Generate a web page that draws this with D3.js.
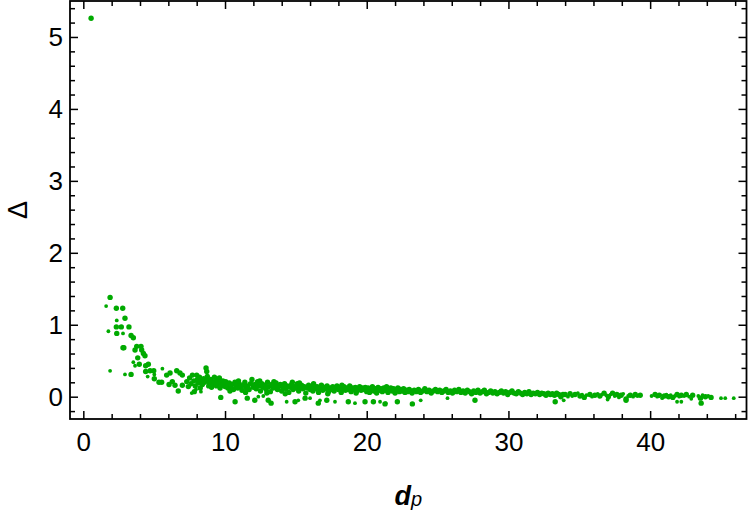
<!DOCTYPE html>
<html>
<head>
<meta charset="utf-8">
<script src="https://cdn.jsdelivr.net/npm/d3@7"></script>
<style>
  body { margin: 0; background: #fff; font-family: "Liberation Sans", Arial, sans-serif; }
</style>
</head>
<body>
<svg id="chart" width="750" height="515"></svg>
<script>
// tick values
const xMajorTicks = [0, 10, 20, 30, 40]
const xMinorTicks = [2, 4, 6, 8, 12, 14, 16, 18, 22, 24, 26, 28, 32, 34, 36, 38, 42, 44, 46]
const yMajorTicks = [0, 1, 2, 3, 4, 5]
const yMinorTicks = [-0.2, 0.2, 0.4, 0.6, 0.8, 1.2, 1.4, 1.6, 1.8, 2.2, 2.4, 2.6, 2.8,
                     3.2, 3.4, 3.6, 3.8, 4.2, 4.4, 4.6, 4.8, 5.2, 5.4]

// [d_p, Delta] -- bigger dots
const largePts = [
  [0.55,5.26],
  [1.89,1.38],[2.33,1.23],[2.78,1.23],[2.94,1.09],[2.33,0.97],[2.68,0.97],[3.22,0.97],[2.36,0.88],
  [3.37,0.85],[3.53,0.82],[2.80,0.68],[2.86,0.68],[3.77,0.70],[4.07,0.70],[3.65,0.65],[4.12,0.65],
  [4.24,0.60],[4.35,0.57],[3.84,0.54],[3.95,0.45],[4.59,0.45],[4.40,0.43],[3.37,0.31],[4.40,0.35],
  [4.71,0.36],[4.97,0.36],[5.01,0.25],[5.34,0.20],[5.53,0.20],[5.88,0.30],[6.12,0.33],[6.59,0.36],
  [6.82,0.33],[6.99,0.30],[6.28,0.21],[6.05,0.17],[6.47,0.16],[6.99,0.16],[6.70,0.08],[7.30,0.21],
  [7.41,0.14],[7.83,0.07],
  [7.5,0.26],[7.6,0.18],[7.7,0.30],[7.8,0.22],[7.9,0.15],[8.0,0.30],[8.05,0.24],[8.1,0.19],[8.2,0.27],
  [8.25,0.12],[8.3,0.22],[8.4,0.17],[8.5,0.25],[8.55,0.20],[8.66,0.40],[8.71,0.35],[8.75,0.28],
  [8.8,0.22],[8.85,0.15],[8.9,0.19],[9.0,0.24],[9.05,0.13],[9.1,0.21],[9.2,0.17],[9.25,0.27],[9.3,0.20],
  [9.4,0.15],[9.45,0.23],[9.5,0.18],[9.6,0.26],[9.65,0.12],[9.7,0.20],[9.8,0.16],[9.85,0.22],[9.9,0.18],
  [10.0,0.14],[10.05,0.21],[10.1,0.17],[10.2,0.12],[9.70,-0.01],[10.71,-0.07],[11.57,-0.02],
  [10.3,0.19],[10.4,0.13],[10.5,0.17],[10.6,0.10],[10.7,0.20],[10.8,0.15],[10.9,0.12],[11.0,0.18],
  [11.1,0.14],[11.2,0.09],[11.3,0.16],[11.4,0.20],[11.5,0.12],[11.6,0.15],[11.7,0.10],[11.8,0.18],
  [11.9,0.24],[12.0,0.13],[12.1,0.17],[12.2,0.11],[12.3,0.21],[12.4,0.15],[12.5,0.08],[12.6,0.18],
  [12.7,0.13],[12.8,0.16],[12.9,0.10],[13.0,0.20],[13.1,0.14],[13.2,0.07],[13.3,0.17],[13.4,0.12],
  [13.5,0.15],[13.6,0.19],[13.7,0.10],[13.8,0.14],[13.9,0.17],[14.0,0.08],[14.1,0.13],[14.2,0.18],
  [14.3,0.11],[14.4,0.15],[14.5,0.06],[14.6,0.13],[14.7,0.17],[14.8,0.10],[14.9,0.14],[15.0,0.12],
  [15.1,0.18],[15.2,0.08],[15.3,0.13],[15.4,0.16],[15.5,0.11],[15.6,0.14],[15.7,0.05],[15.8,0.12],
  [15.9,0.16],[16.0,0.10],[16.1,0.13],[16.2,0.08],[16.3,0.15],[16.4,0.11],[16.5,0.14],[16.6,0.06],
  [16.7,0.12],[16.8,0.16],[16.9,0.09],[17.0,0.13],[17.1,0.11],[17.2,0.15],[17.3,0.07],[17.4,0.12],
  [17.5,0.10],[17.6,0.14],[17.7,0.08],[17.8,0.12],[17.9,0.15],[18.0,0.10],[18.1,0.13],[18.2,0.06],
  [18.3,0.11],[18.4,0.14],[18.5,0.09],[18.6,0.12],[18.7,0.10],[18.8,0.15],[18.9,0.07],[19.0,0.12],
  [19.1,0.10],[19.2,0.13],[19.3,0.08],[19.4,0.11],[19.5,0.14],[19.6,0.09],[19.7,0.12],[19.8,0.10],
  [19.9,0.13],[20.0,0.07],
  [10.35,0.08],[10.95,0.22],[11.45,0.06],[12.45,0.22],[12.95,0.05],[13.45,0.21],[14.25,0.04],
  [14.75,0.20],[15.25,0.19],[16.25,0.18],[17.25,0.04],[18.25,0.16],[19.25,0.05],
  [12.1,-0.05],[13.05,-0.05],[13.25,-0.09],[14.94,-0.07],[15.65,-0.02],[16.58,-0.09],[17.18,-0.05],
  [18.7,-0.07],[19.88,-0.07],
  [20.1,0.12],[20.2,0.06],[20.3,0.10],[20.4,0.14],[20.5,0.08],[20.6,0.11],[20.7,0.05],[20.8,0.13],
  [20.9,0.09],[21.0,0.11],[21.1,0.07],[21.2,0.12],[21.3,0.09],[21.4,0.14],[21.5,0.06],[21.6,0.10],
  [21.7,0.12],[21.8,0.08],[21.9,0.11],[22.0,0.05],[22.1,0.09],[22.2,0.12],[22.3,0.07],[22.4,0.10],
  [22.5,0.08],[22.6,0.11],[22.7,0.06],[22.8,0.09],[22.9,0.07],[23.0,0.10],[23.1,0.08],[23.2,0.05],
  [23.35,0.09],[23.5,0.07],[23.65,0.10],[23.8,0.06],[23.95,0.08],[24.1,0.11],[24.25,0.07],[24.4,0.09],
  [24.55,0.05],[24.7,0.08],[24.85,0.10],[25.0,0.07],[25.15,0.09],[25.3,0.06],[25.45,0.08],[25.6,0.10],
  [25.75,0.06],[25.9,0.08],[26.05,0.05],[26.2,0.09],[26.35,0.07],[26.5,0.10],[26.65,0.06],[26.8,0.08],
  [26.95,0.05],[27.1,0.09],[27.25,0.07],[27.4,0.04],[27.55,0.08],[27.7,0.06],[27.85,0.09],[28.0,0.05],
  [28.15,0.07],[28.3,0.09],[28.45,0.04],[28.6,0.06],[28.75,0.08],[28.9,0.05],[29.05,0.07],[29.2,0.04],
  [29.35,0.06],[29.5,0.08],[29.65,0.05],[29.8,0.07],[29.95,0.03],[30.1,0.06],[30.25,0.08],[30.4,0.05],
  [30.55,0.04],[30.7,0.07],[30.85,0.05],[31.0,0.03],[31.15,0.06],[31.3,0.04],[31.45,0.07],[31.6,0.03],
  [31.75,0.05],[31.9,0.04],[32.05,0.06],[32.2,0.03],[32.35,0.05],[32.5,0.04],[32.65,0.02],[32.8,0.05],
  [32.95,0.03],[33.1,0.04],[33.25,0.02],[33.4,0.05],[33.55,0.03],[33.7,0.00],[33.85,0.03],
  [20.47,-0.07],[21.29,-0.10],[22.16,-0.07],[23.22,-0.10],[27.64,-0.05],[33.3,-0.07],
  [34.0,0.03],[34.35,0.04],[34.7,0.03],[35.05,0.01],[35.35,-0.01],[35.75,0.03],[36.1,0.02],
  [36.45,0.01],[36.75,0.05],[37.05,0.00],[37.35,0.05],[37.65,0.03],[37.95,0.02],[38.3,-0.03],
  [38.6,0.02],[38.95,0.03],[39.3,0.02],[40.35,0.03],[40.65,0.02],[41.0,0.01],[41.3,0.00],
  [41.6,-0.01],[41.9,0.03],[42.2,0.02],[42.55,0.03],[43.0,0.02],[43.55,-0.02],[43.9,0.00],
  [44.3,-0.01],[38.3,-0.05],[43.6,-0.09]
]

// smaller dots
const smallPts = [
  [1.61,1.26],[2.36,1.06],[1.77,0.91],[2.80,0.88],[3.53,0.48],[3.65,0.43],[1.89,0.36],[2.94,0.31],
  [4.54,0.28],[5.01,0.31],[5.58,0.39],[7.65,0.05],[7.95,0.10],[8.3,0.07],
  [12.35,0.00],[12.7,0.01],[14.35,-0.07],[15.17,-0.05],[16.0,-0.02],[16.7,-0.05],[17.76,-0.07],
  [19.17,-0.09],[20.94,-0.07],[21.34,-0.09],[23.81,-0.05],[25.7,-0.02],[33.9,-0.05],
  [34.2,0.00],[34.5,0.01],[34.9,0.05],[35.2,0.03],[35.5,0.02],[35.9,0.00],[36.3,0.04],[36.6,0.03],
  [36.9,0.02],[37.2,0.03],[37.5,0.01],[37.8,-0.01],[38.1,0.04],[38.45,0.01],[38.8,0.00],[39.1,0.01],
  [40.1,0.01],[40.5,0.00],[40.85,-0.02],[41.15,0.03],[41.45,0.02],[41.75,0.01],[42.05,0.00],
  [42.4,0.01],[42.75,0.00],[43.4,0.01],[43.7,0.02],[44.1,0.01],[45.0,-0.02],[45.3,-0.02],[45.9,-0.02],
  [37.0,-0.04],[41.9,-0.07],[42.2,-0.07],[42.9,-0.03]
]

const frame = { left: 70, right: 746.5, top: 1, bottom: 419 }
const dotColor = "#00aa00"

const svg = d3.select("#chart")

const xScale = d3.scaleLinear()
    .domain([-0.94, 46.8])
    .range([frame.left, frame.right])

const yScale = d3.scaleLinear()
    .domain([-0.31, 5.5])
    .range([frame.bottom, frame.top])

// points
svg.append("g")
    .selectAll("circle")
    .data(smallPts)
    .enter()
    .append("circle")
        .attr("cx", d => xScale(d[0]))
        .attr("cy", d => yScale(d[1]))
        .attr("r", 1.9)
        .attr("fill", dotColor)

svg.append("g")
    .selectAll("circle")
    .data(largePts)
    .enter()
    .append("circle")
        .attr("cx", d => xScale(d[0]))
        .attr("cy", d => yScale(d[1]))
        .attr("r", 2.7)
        .attr("fill", dotColor)

// axes, ticks pointing inward on all four sides
const fontSize = "26px"
const addAxis = (gen, transform, size, values, labels, padding) => {
    const g = svg.append("g")
        .attr("transform", transform)
        .call(gen.tickValues(values).tickSize(-size).tickPadding(padding)
            .tickFormat(labels ? d3.format("d") : ""))
    g.select(".domain").remove()
    g.selectAll("line").attr("stroke", "#000").attr("stroke-width", 1.5)
    g.selectAll("text")
        .attr("fill", "#000")
        .style("font-size", fontSize)
        .style("font-family", '"Liberation Sans", Arial, sans-serif')
    return g
}

addAxis(d3.axisBottom(xScale), `translate(0,${frame.bottom})`, 8, xMajorTicks, true, 14)
addAxis(d3.axisBottom(xScale), `translate(0,${frame.bottom})`, 5, xMinorTicks, false, 14)
addAxis(d3.axisTop(xScale), `translate(0,${frame.top})`, 8, xMajorTicks, false, 5)
addAxis(d3.axisTop(xScale), `translate(0,${frame.top})`, 5, xMinorTicks, false, 5)
addAxis(d3.axisLeft(yScale), `translate(${frame.left},0)`, 8, yMajorTicks, true, 7)
addAxis(d3.axisLeft(yScale), `translate(${frame.left},0)`, 5, yMinorTicks, false, 7)
addAxis(d3.axisRight(yScale), `translate(${frame.right},0)`, 8, yMajorTicks, false, 5)
addAxis(d3.axisRight(yScale), `translate(${frame.right},0)`, 5, yMinorTicks, false, 5)

// frame
svg.append("rect")
    .attr("x", frame.left)
    .attr("y", frame.top)
    .attr("width", frame.right - frame.left)
    .attr("height", frame.bottom - frame.top)
    .attr("fill", "none")
    .attr("stroke", "#000")
    .attr("stroke-width", 1.8)

// axis labels
const xLabel = svg.append("text")
    .attr("x", (frame.left + frame.right) / 2)
    .attr("y", 505)
    .attr("text-anchor", "middle")
    .style("font-family", '"Liberation Sans", Arial, sans-serif')
xLabel.append("tspan")
    .style("font-size", "27px")
    .style("font-weight", "bold")
    .style("font-style", "italic")
    .text("d")
xLabel.append("tspan")
    .attr("dy", 1)
    .style("font-size", "20px")
    .style("font-style", "italic")
    .text("p")

svg.append("text")
    .attr("transform", `translate(27,${(frame.top + frame.bottom) / 2}) rotate(-90)`)
    .attr("text-anchor", "middle")
    .style("font-family", '"Liberation Sans", Arial, sans-serif')
    .style("font-size", "27px")
    .text("Δ")
</script>
</body>
</html>
